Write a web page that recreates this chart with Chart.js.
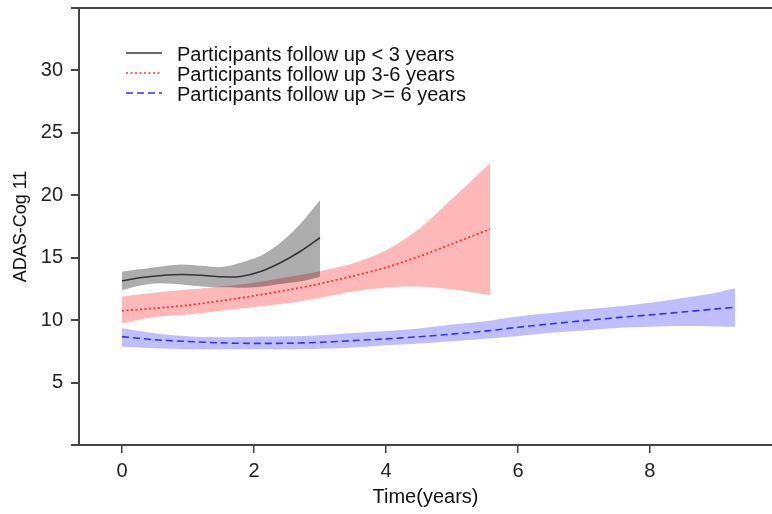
<!DOCTYPE html>
<html>
<head>
<meta charset="utf-8">
<script src="https://cdn.jsdelivr.net/npm/chart.js@4.4.1/dist/chart.umd.min.js"></script>
<style>
  html, body { margin: 0; padding: 0; background: #fff; }
  #wrap { width: 772px; height: 514px; }
</style>
</head>
<body>
<div id="wrap"><canvas id="curves"></canvas></div>
<script>
// follow up < 3 years
const t1 = [0, 0.3, 0.6, 0.9, 1.2, 1.5, 1.8, 2.1, 2.4, 2.7, 3.0];
const fit1 = [13.15, 13.42, 13.58, 13.66, 13.6, 13.47, 13.5, 13.9, 14.6, 15.5, 16.6];
const hi1 = [13.9, 14.1, 14.3, 14.45, 14.35, 14.25, 14.6, 15.15, 16.2, 17.7, 19.6];
const lo1 = [12.4, 12.8, 12.95, 12.85, 12.7, 12.63, 12.6, 12.68, 12.9, 13.1, 13.45];

// follow up 3-6 years
const t2 = [0, 0.5, 1, 1.5, 2, 2.5, 3, 3.5, 4, 4.5, 5, 5.58];
const fit2 = [10.75, 10.95, 11.2, 11.55, 11.95, 12.4, 12.92, 13.53, 14.22, 15.1, 16.1, 17.3];
const hi2 = [11.9, 12.2, 12.45, 12.7, 13.0, 13.45, 13.92, 14.55, 15.6, 17.3, 19.7, 22.6];
const lo2 = [9.75, 10.25, 10.45, 10.75, 11.05, 11.35, 11.8, 12.3, 12.6, 12.68, 12.47, 12.0];

// follow up >= 6 years
const t3 = [0, 0.5, 1, 1.5, 2, 2.5, 3, 3.5, 4, 4.5, 5, 5.5, 6, 6.5, 7, 7.5, 8, 8.5, 9, 9.29];
const fit3 = [8.68, 8.43, 8.29, 8.18, 8.14, 8.15, 8.22, 8.36, 8.5, 8.67, 8.88, 9.12, 9.43, 9.7, 9.96, 10.2, 10.42, 10.65, 10.9, 11.03];
const hi3 = [9.35, 8.95, 8.7, 8.63, 8.67, 8.7, 8.8, 8.98, 9.13, 9.33, 9.65, 9.92, 10.3, 10.57, 10.85, 11.1, 11.4, 11.78, 12.2, 12.55];
const lo3 = [7.87, 7.75, 7.67, 7.66, 7.66, 7.66, 7.7, 7.8, 7.98, 8.12, 8.3, 8.5, 8.73, 9.0, 9.18, 9.38, 9.48, 9.53, 9.5, 9.47];

const labels = [
  'Participants follow up < 3 years',
  'Participants follow up 3-6 years',
  'Participants follow up >= 6 years'
];
const xTicks = [0, 2, 4, 6, 8];
const yTicks = [0, 5, 10, 15, 20, 25, 30, 35];

const pts = (xs, ys) => xs.map((x, i) => ({ x: x, y: ys[i] }));

function band(xs, hi, lo, fillColor) {
  return [
    { data: pts(xs, hi), fill: '+1', backgroundColor: fillColor, borderWidth: 0, borderColor: 'transparent', pointRadius: 0, tension: 0.3, order: 2 },
    { data: pts(xs, lo), fill: false, borderWidth: 0, borderColor: 'transparent', pointRadius: 0, tension: 0.3, order: 2 }
  ];
}

function fitLine(xs, ys, label, color, dash, width) {
  return { label: label, data: pts(xs, ys), fill: false, borderColor: color, borderWidth: width, borderDash: dash, pointRadius: 0, tension: 0.3, order: 0, isFit: true };
}

// legend drawn inside the plot, like the R legend without box
const rLegend = {
  id: 'rLegend',
  afterDraw(chart) {
    const ctx = chart.ctx;
    const fits = chart.data.datasets.filter(d => d.isFit);
    ctx.save();
    ctx.font = '20px "Liberation Sans", Arial, sans-serif';
    ctx.fillStyle = '#111';
    ctx.textBaseline = 'alphabetic';
    fits.forEach((d, i) => {
      const y = 53 + i * 20;
      ctx.beginPath();
      ctx.strokeStyle = d.borderColor;
      ctx.lineWidth = 1.5;
      ctx.setLineDash(d.borderDash || []);
      ctx.moveTo(126, y);
      ctx.lineTo(162, y);
      ctx.stroke();
      ctx.setLineDash([]);
      ctx.fillText(d.label, 177, y + 8);
    });
    ctx.restore();
  }
};

const axisCol = '#444';

new Chart(document.getElementById('curves'), {
  type: 'line',
  data: {
    datasets: [
      ...band(t1, hi1, lo1, 'rgba(0,0,0,0.32)'),
      ...band(t2, hi2, lo2, 'rgba(255,0,0,0.28)'),
      ...band(t3, hi3, lo3, 'rgba(0,0,255,0.25)'),
      fitLine(t1, fit1, labels[0], '#333', [], 1.6),
      fitLine(t2, fit2, labels[1], '#ff3030', [2, 2.5], 1.8),
      fitLine(t3, fit3, labels[2], '#3030ff', [7, 4], 1.6)
    ]
  },
  options: {
    responsive: true,
    maintainAspectRatio: false,
    animation: false,
    layout: { padding: { top: 8, right: 0, bottom: 0, left: 0 } },
    plugins: {
      legend: { display: false },
      tooltip: { enabled: false }
    },
    scales: {
      x: {
        type: 'linear',
        min: -0.652,
        max: 9.85,
        afterBuildTicks: s => { s.ticks = xTicks.map(v => ({ value: v })); },
        afterFit: s => { s.height = 69; s.paddingLeft = 0; s.paddingRight = 0; },
        ticks: { font: { size: 20, family: '"Liberation Sans", Arial' }, color: '#222', padding: 6, maxRotation: 0 },
        grid: { color: 'transparent', tickColor: axisCol, tickLength: 8, lineWidth: 1.5 },
        border: { display: true, color: axisCol, width: 2 },
        title: { display: true, text: 'Time(years)', font: { size: 20, family: '"Liberation Sans", Arial' }, color: '#111', padding: { top: 0, bottom: 5 } }
      },
      y: {
        min: 0,
        max: 35,
        afterBuildTicks: s => { s.ticks = yTicks.map(v => ({ value: v })); },
        afterFit: s => { s.width = 79; s.paddingTop = 0; s.paddingBottom = 0; },
        ticks: {
          font: { size: 20, family: '"Liberation Sans", Arial' },
          color: '#222',
          padding: 8,
          callback: v => (v === 0 || v === 35) ? '' : v
        },
        grid: {
          color: c => (c.tick && (c.tick.value === 0 || c.tick.value === 35)) ? axisCol : 'transparent',
          tickColor: axisCol,
          tickLength: 8,
          lineWidth: 2
        },
        border: { display: true, color: axisCol, width: 2 },
        title: { display: true, text: 'ADAS-Cog 11', font: { size: 18, family: '"Liberation Sans", Arial' }, color: '#111', padding: { top: 10, bottom: 0 } }
      }
    }
  },
  plugins: [rLegend]
});
</script>
</body>
</html>
